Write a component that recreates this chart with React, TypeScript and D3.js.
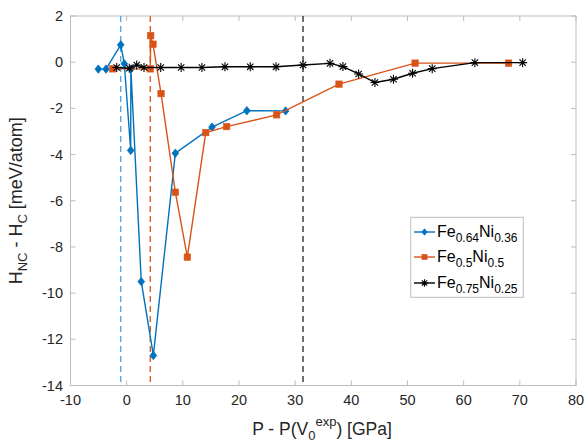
import React from "react";
import * as d3 from "d3";

const xTicks = [-10, 0, 10, 20, 30, 40, 50, 60, 70, 80];
const yTicks = [-14, -12, -10, -8, -6, -4, -2, 0, 2];

const fe64X = [-5.05, -3.68, -1.06, -0.42, 0.72, 0.75, 2.6, 4.75, 8.67, 15.2, 21.4, 28.3];
const fe64Y = [-0.3, -0.3, 0.75, -0.07, -3.82, -0.3, -9.5, -12.7, -3.94, -2.81, -2.1, -2.11];

const fe50X = [-2.48, 4.2, 4.28, 4.69, 6.12, 8.67, 10.8, 14.08, 17.8, 26.7, 37.8, 51.35, 68.0];
const fe50Y = [-0.29, -0.29, 1.15, 0.78, -1.36, -5.63, -8.44, -3.05, -2.79, -2.28, -0.95, -0.04, -0.04];

const fe75X = [-1.77, 0.47, 1.79, 3.09, 6.06, 9.7, 13.4, 17.5, 22.0, 26.6, 31.4, 36.2, 38.5, 41.3, 44.2, 47.5, 50.9, 54.4, 62.0, 70.5];
const fe75Y = [-0.23, -0.26, -0.12, -0.23, -0.23, -0.23, -0.23, -0.2, -0.2, -0.2, -0.12, -0.05, -0.19, -0.51, -0.88, -0.74, -0.48, -0.28, -0.02, -0.02];

const vLines = [
  { x: -1.06, color: "#4DA3E6" },
  { x: 4.2, color: "#D95319" },
  { x: 31.4, color: "#262626" },
];

const BLUE = "#0072BD";
const ORANGE = "#D95319";
const BLACK = "#000000";

const W = 587, H = 445;
const L = 70.5, R = 576, T = 16, B = 385.5;
const FONT = "'Liberation Sans', Arial, Helvetica, sans-serif";

export default function App() {
  const x = d3.scaleLinear().domain([-10, 80]).range([L, R]);
  const y = d3.scaleLinear().domain([-14, 2]).range([B, T]);
  const line = d3.line<[number, number]>().x(d => x(d[0])).y(d => y(d[1]));
  const zip = (a: number[], b: number[]) => a.map((v, i) => [v, b[i]] as [number, number]);
  const s64 = zip(fe64X, fe64Y);
  const s50 = zip(fe50X, fe50Y);
  const s75 = zip(fe75X, fe75Y);

  const diamond = (cx: number, cy: number, r = 4.2, color = BLUE, key?: any) => (
    <path key={key} d={`M${cx},${cy - r}L${cx + r * 0.8},${cy}L${cx},${cy + r}L${cx - r * 0.8},${cy}Z`} fill={color} stroke={color} strokeWidth={0.8} />
  );
  const square = (cx: number, cy: number, s = 3.2, color = ORANGE, key?: any) => (
    <rect key={key} x={cx - s} y={cy - s} width={2 * s} height={2 * s} fill={color} stroke={color} strokeWidth={0.6} />
  );
  const star = (cx: number, cy: number, r = 4.5, color = BLACK, key?: any) => {
    const d = r * 0.707;
    return (
      <path key={key} d={`M${cx - r},${cy}L${cx + r},${cy}M${cx},${cy - r}L${cx},${cy + r}M${cx - d},${cy - d}L${cx + d},${cy + d}M${cx - d},${cy + d}L${cx + d},${cy - d}`} stroke={color} strokeWidth={1.1} fill="none" />
    );
  };

  const legX = 410.7, legY = 217.3, legW = 112.6, legH = 80;
  const entries = [
    { a: "0.64", b: "0.36", color: BLUE, mk: "d", cy: 232 },
    { a: "0.5", b: "0.5", color: ORANGE, mk: "s", cy: 257 },
    { a: "0.75", b: "0.25", color: BLACK, mk: "*", cy: 283 },
  ];

  return (
    <svg width={W} height={H} style={{ position: "absolute", left: 0, top: 0, background: "#fff" }} fontFamily={FONT}>
      <rect x={0} y={0} width={W} height={H} fill="#fff" />
      <rect x={L} y={T} width={R - L} height={B - T} fill="none" stroke="#BDBDBD" strokeWidth={1} />
      {xTicks.map(t => (
        <g key={"xt" + t}>
          <line x1={x(t)} x2={x(t)} y1={B} y2={B - 5} stroke="#BDBDBD" />
          <line x1={x(t)} x2={x(t)} y1={T} y2={T + 5} stroke="#BDBDBD" />
          <text x={x(t)} y={405} textAnchor="middle" fontSize={14.5} fill="#262626">{t}</text>
        </g>
      ))}
      {yTicks.map(t => (
        <g key={"yt" + t}>
          <line x1={L} x2={L + 5} y1={y(t)} y2={y(t)} stroke="#BDBDBD" />
          <line x1={R} x2={R - 5} y1={y(t)} y2={y(t)} stroke="#BDBDBD" />
          <text x={63} y={y(t) + 5} textAnchor="end" fontSize={14.5} fill="#262626">{t}</text>
        </g>
      ))}
      {vLines.map((v, i) => (
        <line key={"v" + i} x1={x(v.x)} x2={x(v.x)} y1={T} y2={B} stroke={v.color} strokeWidth={1.3} strokeDasharray="6,4" />
      ))}
      <path d={line(s64) || ""} fill="none" stroke={BLUE} strokeWidth={1.4} />
      {s64.map((p, i) => diamond(x(p[0]), y(p[1]), 4.2, BLUE, "d" + i))}
      <path d={line(s50) || ""} fill="none" stroke={ORANGE} strokeWidth={1.4} />
      {s50.map((p, i) => square(x(p[0]), y(p[1]), 3.2, ORANGE, "s" + i))}
      <path d={line(s75) || ""} fill="none" stroke={BLACK} strokeWidth={1.4} />
      {s75.map((p, i) => <g key={"k" + i}>{star(x(p[0]), y(p[1]))}</g>)}

      <rect x={legX} y={legY} width={legW} height={legH} fill="#fff" stroke="#BDBDBD" />
      {entries.map((e, i) => (
        <g key={"leg" + i}>
          <line x1={414} x2={435} y1={e.cy} y2={e.cy} stroke={e.color} strokeWidth={1.4} />
          {e.mk === "d" ? diamond(424.5, e.cy, 3.2, e.color) : e.mk === "s" ? square(424.5, e.cy, 2.6, e.color) : star(424.5, e.cy, 3.8, e.color)}
          <text x={437} y={e.cy + 5} fontSize={16} fill="#000">
            Fe<tspan dy={5} fontSize={12}>{e.a}</tspan><tspan dy={-5}>Ni</tspan><tspan dy={5} fontSize={12}>{e.b}</tspan>
          </text>
        </g>
      ))}

      <text x={322} y={435} textAnchor="middle" fontSize={17.5} fill="#262626">
        P - P(V<tspan dy={5} fontSize={13}>0</tspan><tspan dy={-14} fontSize={13}>exp</tspan><tspan dy={9}>) [GPa]</tspan>
      </text>
      <text transform={`translate(22,${(T + B) / 2}) rotate(-90)`} textAnchor="middle" fontSize={18} fill="#262626">
        H<tspan dy={5} fontSize={13}>NC</tspan><tspan dy={-5}> - H</tspan><tspan dy={5} fontSize={13}>C</tspan><tspan dy={-5}> [meV/atom]</tspan>
      </text>
    </svg>
  );
}
